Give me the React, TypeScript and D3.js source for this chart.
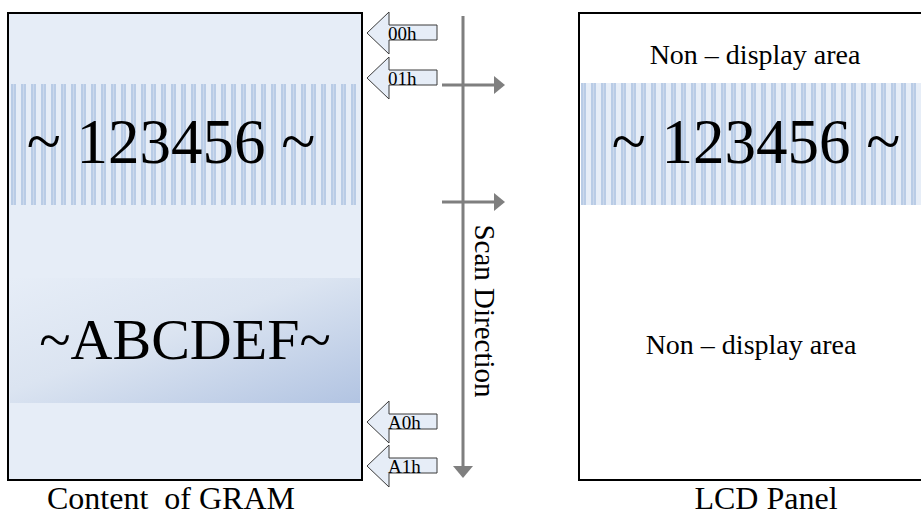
import React from "react";
import * as d3 from "d3";

// ---- data ----
const addresses = ["00h", "01h", "A0h", "A1h"];
const gramLines = ["~ 123456 ~", "~ABCDEF~"];
const panelLines = ["Non \u2013 display area", "~ 123456 ~", "Non \u2013 display area"];
const captions = ["Content  of GRAM", "LCD Panel"];
const scanLabel = "Scan Direction";

const W = 921;
const H = 517;
const FONT = "'Liberation Serif', 'Times New Roman', serif";
const BG = "#e6edf7";
const STRIPE = "#b9cce6";
const GRAY = "#7f7f7f";

// layout scales
const addrY = d3.scaleOrdinal<string, number>().domain(addresses).range([33, 78, 422, 466]);

function BlockArrow({ c, label }: { c: number; label: string }) {
  const tip = 367, base = 389, end = 437;
  const p = d3.path();
  p.moveTo(tip, c);
  p.lineTo(base, c - 21);
  p.lineTo(base, c - 8);
  p.lineTo(end, c - 8);
  p.lineTo(end, c + 7);
  p.lineTo(base, c + 7);
  p.lineTo(base, c + 21);
  p.closePath();
  return (
    <g>
      <path d={p.toString()} fill={BG} stroke="#3a3a3a" strokeWidth={1} />
      <text x={base - 1} y={c + 7} fontFamily={FONT} fontSize={19} fill="#000">
        {label}
      </text>
    </g>
  );
}

export default function App() {
  const leftBox = { x: 8, y: 13, w: 354, h: 467 };
  const rightBox = { x: 579, y: 13, w: 360, h: 467 };
  const stripeY0 = 84, stripeY1 = 205;
  const scanX = 463;
  const hArrows = [85, 202];
  return (
    <svg width={W} height={H} style={{ position: "absolute", left: 0, top: 0, background: "#fff" }}>
      <defs>
        <pattern id="stripes" patternUnits="userSpaceOnUse" width={10} height={10} x={11} y={0}>
          <rect width={10} height={10} fill={BG} />
          <rect x={0} width={2} height={10} fill={STRIPE} />
          <rect x={2} width={1} height={10} fill="#cbd8ec" />
          <rect x={3} width={2} height={10} fill={STRIPE} />
        </pattern>
        <linearGradient id="grad" x1="0" y1="0" x2="1" y2="1">
          <stop offset="0" stopColor={BG} />
          <stop offset="0.45" stopColor="#dbe4f1" />
          <stop offset="1" stopColor="#b2c4e2" />
        </linearGradient>
      </defs>

      {/* left GRAM box */}
      <rect x={leftBox.x} y={leftBox.y} width={leftBox.w} height={leftBox.h} fill={BG} />
      <rect x={leftBox.x + 2} y={stripeY0} width={leftBox.w - 4} height={stripeY1 - stripeY0} fill="url(#stripes)" />
      <rect x={leftBox.x + 2} y={278} width={leftBox.w - 4} height={125} fill="url(#grad)" />
      <rect x={leftBox.x} y={leftBox.y} width={leftBox.w} height={leftBox.h} fill="none" stroke="#000" strokeWidth={2} />
      <text x={171} y={163} textAnchor="middle" fontFamily={FONT} fontSize={63}>{gramLines[0]}</text>
      <text x={185} y={359} textAnchor="middle" fontFamily={FONT} fontSize={58}>{gramLines[1]}</text>

      {/* right LCD panel */}
      <rect x={rightBox.x} y={rightBox.y} width={rightBox.w} height={rightBox.h} fill="#fff" stroke="#000" strokeWidth={2} />
      <rect x={rightBox.x + 2} y={stripeY0 - 1} width={rightBox.w} height={stripeY1 - stripeY0 + 1} fill="url(#stripes)" />
      <text x={755} y={64} textAnchor="middle" fontFamily={FONT} fontSize={28}>{panelLines[0]}</text>
      <text x={756} y={163} textAnchor="middle" fontFamily={FONT} fontSize={63}>{panelLines[1]}</text>
      <text x={751} y={354} textAnchor="middle" fontFamily={FONT} fontSize={28}>{panelLines[2]}</text>

      {/* address block arrows */}
      {addresses.map((a) => (
        <BlockArrow key={a} c={addrY(a)} label={a} />
      ))}

      {/* scan direction */}
      <line x1={scanX} y1={16} x2={scanX} y2={467} stroke={GRAY} strokeWidth={3} />
      <path d={`M${scanX - 10},466L${scanX + 10},466L${scanX},478Z`} fill={GRAY} />
      {hArrows.map((y) => (
        <g key={y}>
          <line x1={442} y1={y} x2={494} y2={y} stroke={GRAY} strokeWidth={3} />
          <path d={`M494,${y - 9}L494,${y + 9}L505,${y}Z`} fill={GRAY} />
        </g>
      ))}
      <text transform="translate(475,311) rotate(90)" textAnchor="middle" fontFamily={FONT} fontSize={29}>
        {scanLabel}
      </text>

      {/* captions */}
      <text x={171} y={509} textAnchor="middle" fontFamily={FONT} fontSize={32} style={{ whiteSpace: "pre" }}>{captions[0]}</text>
      <text x={766} y={509} textAnchor="middle" fontFamily={FONT} fontSize={32}>{captions[1]}</text>
    </svg>
  );
}
